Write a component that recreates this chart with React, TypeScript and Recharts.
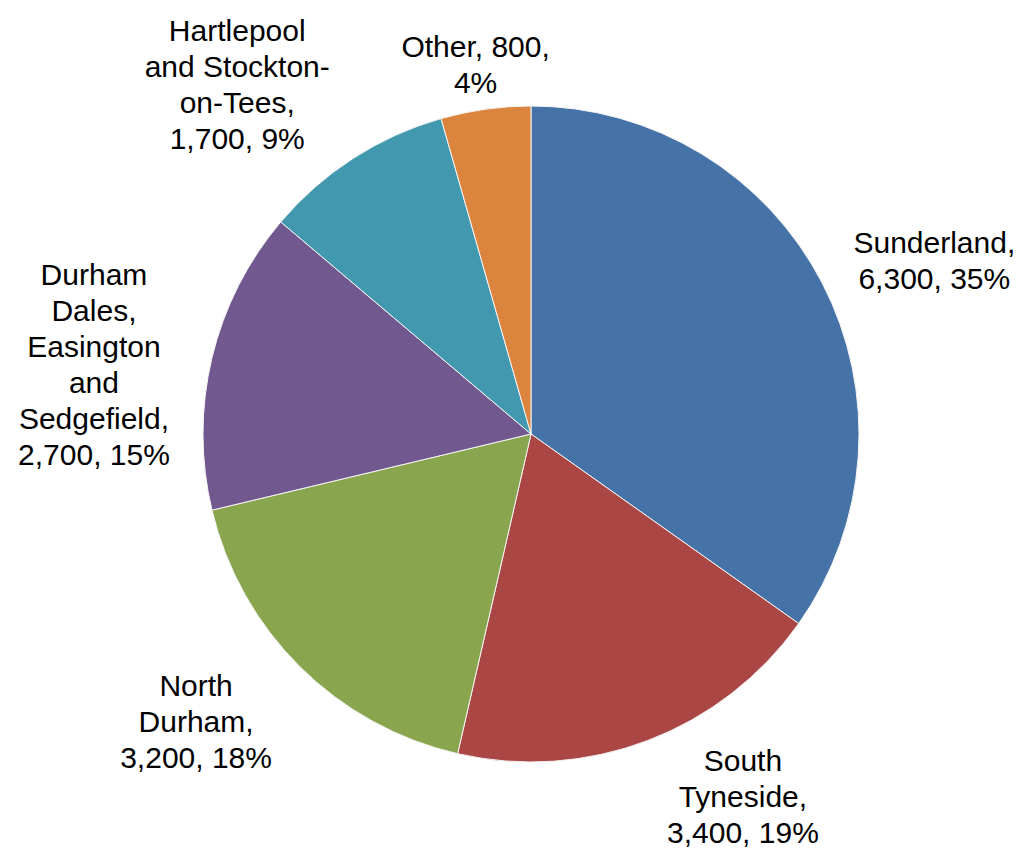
import { PieChart, Pie, Cell } from 'recharts';

const areas = [
  'Sunderland',
  'South Tyneside',
  'North Durham',
  'Durham Dales, Easington and Sedgefield',
  'Hartlepool and Stockton-on-Tees',
  'Other',
];
const counts = [6300, 3400, 3200, 2700, 1700, 800];
const colors = ['#4572A7', '#AA4643', '#89A54E', '#71588F', '#4198AF', '#DB843D'];

// how each label's name part wraps (empty = name, value on first line)
const nameLines = [
  ['Sunderland,'],
  ['South', 'Tyneside,'],
  ['North', 'Durham,'],
  ['Durham', 'Dales,', 'Easington', 'and', 'Sedgefield,'],
  ['Hartlepool', 'and Stockton-', 'on-Tees,'],
  [],
];

// label block centre, relative to the slice's outer edge point
const labelShift = [
  [112, -23],
  [95, 56],
  [-104, 54],
  [-118, 6],
  [-116, -74],
  [-10, -45],
];

const total = counts.reduce((a, b) => a + b, 0);
const data = areas.map((name, i) => ({ name, value: counts[i] }));

const FONT = 30;
const LINE = 36;
const CAP = 21.5;
const RADIAN = Math.PI / 180;

function labelLines(i: number) {
  const value = counts[i].toLocaleString('en-GB');
  const pct = Math.round((counts[i] / total) * 100);
  if (nameLines[i].length === 0) {
    return [`${areas[i]}, ${value},`, `${pct}%`];
  }
  return [...nameLines[i], `${value}, ${pct}%`];
}

const renderLabel = (props: any) => {
  const { cx, cy, midAngle, outerRadius, index } = props;
  const ex = cx + outerRadius * Math.cos(-midAngle * RADIAN);
  const ey = cy + outerRadius * Math.sin(-midAngle * RADIAN);
  const x = ex + labelShift[index][0];
  const mid = ey + labelShift[index][1];
  const lines = labelLines(index);
  const first = mid - ((lines.length - 1) * LINE - CAP) / 2;
  return (
    <text
      x={x}
      y={first}
      textAnchor="middle"
      fill="#000"
      fontSize={FONT}
      fontFamily="'Liberation Sans', Arial, sans-serif"
    >
      {lines.map((l, k) => (
        <tspan key={k} x={x} y={first + k * LINE}>
          {l}
        </tspan>
      ))}
    </text>
  );
};

export default function App() {
  return (
    <div style={{ position: 'absolute', left: 0, top: 0, background: '#fff' }}>
      <PieChart width={1020} height={848} margin={{ top: 0, right: 0, bottom: 0, left: 0 }}>
        <Pie
          data={data}
          dataKey="value"
          nameKey="name"
          cx={531}
          cy={434}
          outerRadius={328}
          startAngle={90}
          endAngle={-270}
          stroke="#f4f4f4"
          strokeWidth={1}
          label={renderLabel}
          labelLine={false}
          isAnimationActive={false}
        >
          {data.map((d, i) => (
            <Cell key={d.name} fill={colors[i]} />
          ))}
        </Pie>
      </PieChart>
    </div>
  );
}
